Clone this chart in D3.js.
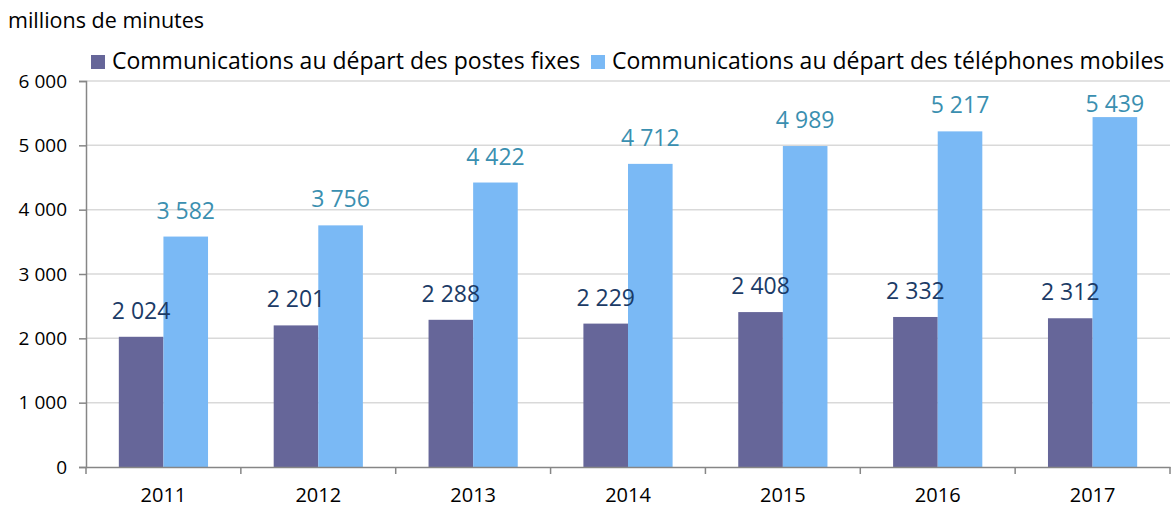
<!DOCTYPE html>
<html>
<head>
<meta charset="utf-8">
<script src="https://cdn.jsdelivr.net/npm/d3@7"></script>
<style>
  body { margin: 0; background: #fff; }
  svg text { font-family: "Open Sans", sans-serif; }
</style>
</head>
<body>
<div id="chart"></div>
<script>
// data
const years = ["2011", "2012", "2013", "2014", "2015", "2016", "2017"];
const seriesNames = ["Communications au départ des postes fixes", "Communications au départ des téléphones mobiles"];
const fixes = [2024, 2201, 2288, 2229, 2408, 2332, 2312];
const mobiles = [3582, 3756, 4422, 4712, 4989, 5217, 5439];
const yTicks = [0, 1000, 2000, 3000, 4000, 5000, 6000];
const unitLabel = "millions de minutes";

const barColors = ["#666699", "#7ab9f5"];
const labelColors = ["#1b3b66", "#3a8fb0"];

const W = 1176, H = 509;
const margin = {top: 81, right: 6, bottom: 42, left: 86};
const width = W - margin.left - margin.right,
      height = H - margin.top - margin.bottom;

const fmt = v => d3.format(",")(v).replace(/,/g, " ");

const svg = d3.select("#chart").append("svg")
    .attr("width", W)
    .attr("height", H);

const g = svg.append("g")
    .attr("transform", `translate(${margin.left},${margin.top})`);

// scales
const x0 = d3.scaleBand().domain(years).range([0, width]).padding(0);
const x1 = d3.scaleBand().domain([0, 1])
    .range([x0.bandwidth() * 0.212, x0.bandwidth() * 0.788]);
const y = d3.scaleLinear().domain([0, 6000]).range([height, 0]);

// gridlines
g.append("g")
  .selectAll("line")
  .data(yTicks.filter(d => d > 0))
  .join("line")
    .attr("x1", 0).attr("x2", width)
    .attr("y1", d => y(d)).attr("y2", d => y(d))
    .attr("stroke", "#d9d9d9")
    .attr("stroke-width", 1.5);

// y axis
const yAxis = g.append("g")
  .call(d3.axisLeft(y).tickValues(yTicks).tickFormat(fmt).tickSizeOuter(0).tickSize(7).tickPadding(12));
yAxis.select(".domain").attr("stroke", "#868686").attr("stroke-width", 1.5);
yAxis.selectAll(".tick line").attr("stroke", "#868686").attr("stroke-width", 1.5);
yAxis.selectAll("text").attr("font-size", 19).attr("fill", "#000")
  .style("font-family", "'Open Sans', sans-serif");

// bars
const series = [fixes, mobiles];
const rows = years.map((yr, i) => ({year: yr, values: series.map(s => s[i])}));

const groups = g.append("g")
  .selectAll("g")
  .data(rows)
  .join("g")
    .attr("transform", d => `translate(${x0(d.year)},0)`);

groups.selectAll("rect")
  .data(d => d.values.map((v, k) => ({k, v})))
  .join("rect")
    .attr("x", d => x1(d.k))
    .attr("width", x1.bandwidth())
    .attr("y", d => y(d.v))
    .attr("height", d => height - y(d.v))
    .attr("fill", d => barColors[d.k]);

// value labels (kept inside the plot area like Excel does)
groups.selectAll("text")
  .data(d => d.values.map((v, k) => ({k, v})))
  .join("text")
    .attr("x", d => x1(d.k) + x1.bandwidth() / 2)
    .attr("y", d => Math.max(y(d.v) - 18, 31))
    .attr("text-anchor", "middle")
    .attr("font-size", 23)
    .attr("fill", d => labelColors[d.k])
    .text(d => fmt(d.v));

// x axis
const xAxis = g.append("g")
  .attr("transform", `translate(0,${height})`)
  .call(d3.axisBottom(x0).tickSize(0).tickPadding(21));
xAxis.select(".domain").attr("stroke", "#868686").attr("stroke-width", 1.5);
xAxis.selectAll("text").attr("font-size", 20).attr("fill", "#000")
  .style("font-family", "'Open Sans', sans-serif");
// category separators
xAxis.append("g")
  .selectAll("line")
  .data(d3.range(years.length + 1))
  .join("line")
    .attr("x1", i => i * x0.step()).attr("x2", i => i * x0.step())
    .attr("y1", 0).attr("y2", 7)
    .attr("stroke", "#868686")
    .attr("stroke-width", 1.5);

// unit title
svg.append("text")
  .attr("x", 8).attr("y", 28)
  .attr("font-size", 21.5)
  .attr("fill", "#000")
  .text(unitLabel);

// legend
const legendX = [91, 591];
const legend = svg.append("g")
  .selectAll("g")
  .data(seriesNames)
  .join("g")
    .attr("transform", (d, i) => `translate(${legendX[i]},55)`);
legend.append("rect")
  .attr("width", 14).attr("height", 14)
  .attr("fill", (d, i) => barColors[i]);
legend.append("text")
  .attr("x", 21).attr("y", 14)
  .attr("font-size", 23)
  .attr("fill", "#000")
  .text(d => d);
</script>
</body>
</html>
